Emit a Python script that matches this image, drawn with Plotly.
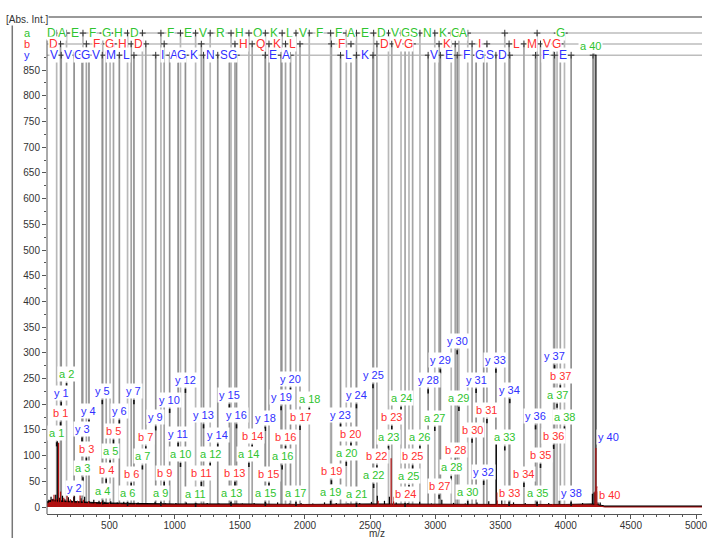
import plotly.graph_objects as go

# ---------------- data ----------------
SEQ = "DAEFGHDSGFEVRHQKLVFFAEDVGSNKGAIIGLMVGGVV"

a_num = [1, 2, 3, 4, 5, 6, 7, 9, 10, 11, 12, 13, 14, 15, 16, 17, 18, 19, 20, 21, 22, 23, 24, 25, 26, 27, 28, 29, 30, 33, 35, 37, 38, 40]
a_mz = [95, 171, 297, 449, 505, 639, 753, 895, 1045, 1161, 1273, 1433, 1570, 1696, 1825, 1931, 2033, 2197, 2317, 2395, 2527, 2641, 2737, 2798, 2882, 2996, 3122, 3181, 3249, 3533, 3781, 3934, 3991, 4232]
a_int = [126, 241, 58, 13, 91, 10, 81, 10, 86, 8, 86, 10, 86, 10, 81, 10, 193, 12, 88, 8, 45, 119, 195, 43, 119, 156, 60, 195, 12, 118, 10, 201, 157, 880]

b_num = [1, 3, 4, 5, 6, 7, 9, 11, 13, 14, 15, 16, 17, 19, 20, 22, 23, 24, 25, 27, 28, 30, 31, 33, 34, 35, 36, 37, 40]
b_mz = [125, 323, 475, 531, 667, 779, 920, 1205, 1463, 1595, 1724, 1851, 1962, 2203, 2353, 2552, 2666, 2768, 2826, 3029, 3153, 3282, 3396, 3566, 3680, 3807, 3908, 3959, 4217]
b_int = [165, 96, 55, 131, 47, 118, 49, 49, 49, 121, 47, 119, 158, 52, 125, 81, 158, 8, 81, 24, 94, 133, 171, 10, 47, 84, 121, 237, 23]

y_num = [1, 2, 3, 4, 5, 6, 7, 9, 10, 11, 12, 13, 14, 15, 16, 18, 19, 20, 23, 24, 25, 28, 29, 30, 31, 32, 33, 34, 36, 37, 38, 40]
y_mz = [130, 229, 290, 343, 445, 576, 688, 855, 962, 1027, 1083, 1222, 1331, 1420, 1475, 1696, 1817, 1889, 2273, 2395, 2522, 2945, 3039, 3168, 3313, 3371, 3465, 3571, 3769, 3915, 4042, 4210]
y_int = [204, 19, 135, 170, 208, 169, 208, 157, 191, 125, 230, 161, 123, 200, 161, 156, 196, 232, 162, 200, 239, 229, 268, 305, 230, 51, 269, 210, 159, 276, 10, 136]

# spectrum: baseline envelopes and stick peaks
env_mz = [21, 60, 120, 200, 300, 450, 700, 1000, 1500, 2000, 2500, 3000, 3500, 4000, 4200, 4260, 4300, 5046]
env_black = [10, 14, 12, 11, 9, 8, 7, 6, 6, 5, 6, 5, 5, 5, 6, 4, 2, 2]
env_red = [6, 10, 9, 8, 6, 5, 4, 4, 3, 3, 4, 3, 3, 3, 4, 2, 0, 0]

black_mz = [35, 52, 68, 88, 100, 118, 140, 158, 185, 205, 232, 255, 282, 310, 345, 380, 420, 465, 510, 560, 610, 660, 720, 790, 850, 930, 1010, 1090, 1170, 1250, 1340, 1430, 1520, 1610, 1700, 1790, 1880, 1970, 2060, 2150, 2240, 2330, 2420, 2510, 2555, 2610, 2648, 2700, 2790, 2880, 2970, 3050, 3140, 3230, 3320, 3410, 3468, 3510, 3600, 3690, 3780, 3870, 3950, 4040, 4130, 4205, 4218, 4232, 4248, 4265]
black_h = [14, 20, 16, 24, 128, 18, 22, 15, 19, 13, 21, 12, 17, 20, 11, 14, 12, 10, 11, 9, 10, 8, 9, 8, 10, 7, 8, 9, 7, 8, 7, 9, 7, 8, 7, 9, 7, 8, 7, 9, 8, 7, 8, 10, 22, 12, 20, 9, 8, 10, 7, 14, 8, 7, 9, 11, 128, 16, 9, 8, 10, 8, 12, 7, 8, 26, 28, 880, 30, 10]

red_mz = [40, 58, 75, 92, 110, 125, 150, 175, 200, 225, 255, 275, 300, 340, 390, 440, 500, 580, 700, 900, 1200, 1600, 2000, 2400, 2561, 2661, 2680, 3000, 3475, 3900, 4225, 4232, 4240]
red_h = [10, 14, 24, 16, 125, 30, 18, 22, 15, 20, 12, 26, 14, 11, 9, 10, 8, 7, 6, 6, 5, 5, 5, 6, 12, 95, 20, 5, 28, 6, 30, 115, 40]

x_ticks = [500, 1000, 1500, 2000, 2500, 3000, 3500, 4000, 4500, 5000]
y_ticks = list(range(0, 851, 50))

# ---------------- style ----------------
X0, X1 = 21, 5046
Y0, Y1 = -13.6, 953.3
ROW_Y = {"a": 922, "b": 901, "y": 879}
COL = {"a": "#2fc42f", "b": "#ff3030", "y": "#3030ff"}
LINE_COL = {"a": "#b8b8b8", "b": "#a4a4a4", "y": "#909090"}
FONT = "Liberation Sans, Arial, sans-serif"

series = {
    "a": (a_num, a_mz, a_int),
    "b": (b_num, b_mz, b_int),
    "y": (y_num, y_mz, y_int),
}

fig = go.Figure()

# row base lines
for s in ["a", "b", "y"]:
    fig.add_trace(go.Scatter(x=[X0, X1], y=[ROW_Y[s], ROW_Y[s]], mode="lines",
                             line=dict(color="#bdbdbd", width=1.5), hoverinfo="skip"))

# vertical ion lines from rows down to baseline
for s in ["a", "b", "y"]:
    nums, mzs, ints = series[s]
    xs, ys = [], []
    for n, m in zip(nums, mzs):
        if s == "a" and n == 40:
            continue
        xs += [m, m, None]
        ys += [0, ROW_Y[s], None]
    fig.add_trace(go.Scatter(x=xs, y=ys, mode="lines", line=dict(color=LINE_COL[s], width=1.7),
                             hoverinfo="skip"))

# row ticks and stubs
for s in ["a", "b", "y"]:
    nums, mzs, ints = series[s]
    xs, ys = [], []
    for n, m in zip(nums, mzs):
        if s == "a" and n == 40:
            continue
        r = ROW_Y[s]
        xs += [m, m, None, m - 25, m + 25, None]
        ys += [r - 6.5, r + 6.5, None, r, r, None]
    fig.add_trace(go.Scatter(x=xs, y=ys, mode="lines", line=dict(color="#333333", width=1),
                             hoverinfo="skip"))

# spectrum
fig.add_trace(go.Scatter(x=env_mz, y=env_black, mode="lines", fill="tozeroy",
                         line=dict(color="black", width=1), fillcolor="black", hoverinfo="skip"))
bx, by = [], []
for m, h in zip(black_mz, black_h):
    bx += [m, m, None]
    by += [0, h, None]
fig.add_trace(go.Scatter(x=bx, y=by, mode="lines", line=dict(color="black", width=1.2), hoverinfo="skip"))

fig.add_trace(go.Scatter(x=env_mz, y=env_red, mode="lines", fill="tozeroy",
                         line=dict(color="#b01010", width=1), fillcolor="#b01010", hoverinfo="skip"))
rx, ry = [], []
for m, h in zip(red_mz, red_h):
    rx += [m, m, None]
    ry += [0, h, None]
fig.add_trace(go.Scatter(x=rx, y=ry, mode="lines", line=dict(color="#b01010", width=1.2), hoverinfo="skip"))

# peak-top markers
mx, my = [], []
for s in ["a", "b", "y"]:
    nums, mzs, ints = series[s]
    for n, m, v in zip(nums, mzs, ints):
        if n == 40:
            continue
        mx += [m, m, None]
        my += [v - 8, v, None]
fig.add_trace(go.Scatter(x=mx, y=my, mode="lines", line=dict(color="#111111", width=1.6), hoverinfo="skip"))

annotations = []
# ion labels
for s in ["a", "b", "y"]:
    nums, mzs, ints = series[s]
    for n, m, v in zip(nums, mzs, ints):
        txt = f"{s} {n}"
        base = dict(text=txt, x=m, y=v, xref="x", yref="y", showarrow=False,
                    font=dict(family=FONT, size=11, color=COL[s]), bgcolor="white", borderpad=1)
        if n == 40 and s in ("y", "b"):
            base.update(xanchor="left", yanchor="middle", xshift=3)
        else:
            base.update(xanchor="center", yanchor="bottom", yshift=1)
            if n == 40:
                base.update(xshift=-5)
        annotations.append(base)

# sequence letters in rows
for s in ["a", "b", "y"]:
    nums, mzs, ints = series[s]
    for i, (n, m) in enumerate(zip(nums, mzs)):
        if n == 1:
            prev = X0
        elif i > 0 and nums[i - 1] == n - 1:
            prev = mzs[i - 1]
        else:
            continue
        letter = SEQ[n - 1] if s in ("a", "b") else SEQ[40 - n]
        annotations.append(dict(text=letter, x=(prev + m) / 2, y=ROW_Y[s], xref="x", yref="y",
                                showarrow=False, xanchor="center", yanchor="middle",
                                font=dict(family=FONT, size=12, color=COL[s]),
                                bgcolor="white", borderpad=0))

# row names
for s in ["a", "b", "y"]:
    annotations.append(dict(text=s, x=-0.0303, y=ROW_Y[s], xref="paper", yref="y", showarrow=False,
                            xanchor="center", yanchor="middle",
                            font=dict(family=FONT, size=11, color=COL[s])))

annotations.append(dict(text="[Abs. Int.]", x=-0.0635, y=0.994, xref="paper", yref="paper",
                        showarrow=False, xanchor="left", yanchor="middle",
                        font=dict(family=FONT, size=10, color="#333"), bgcolor="white", borderpad=0))
annotations.append(dict(text="m/z", x=0.504, y=-0.0392, xref="paper", yref="paper", showarrow=False,
                        xanchor="center", yanchor="middle", font=dict(family=FONT, size=10, color="#333")))

shapes = [
    dict(type="line", xref="paper", yref="y", x0=0, x1=0, y0=Y0, y1=910, line=dict(color="#555", width=1)),
    dict(type="line", xref="paper", yref="paper", x0=-0.053, x1=1.0, y0=1.0, y1=1.0,
         line=dict(color="#777", width=1.5)),
    dict(type="line", xref="paper", yref="paper", x0=-0.053, x1=-0.053, y0=-0.06, y1=1.0,
         line=dict(color="#777", width=1.5)),
]

fig.update_layout(
    width=708, height=538,
    margin=dict(l=47, r=0, t=17, b=24),
    plot_bgcolor="white", paper_bgcolor="white",
    showlegend=False,
    font=dict(family=FONT, size=10, color="#333"),
    annotations=annotations,
    shapes=shapes,
    xaxis=dict(range=[X0, X1], tickvals=x_ticks, ticks="outside", ticklen=4, tickcolor="#555",
               showline=True, linecolor="#555", linewidth=1, showgrid=False, zeroline=False,
               ticklabeloverflow="allow", ticklabelstandoff=-2,
               tickfont=dict(family=FONT, size=10, color="#333"),
               minor=dict(tickvals=list(range(100, 5001, 100)), ticks="outside", ticklen=2,
                          tickcolor="#555", showgrid=False)),
    yaxis=dict(range=[Y0, Y1], tickvals=y_ticks, ticks="outside", ticklen=4, tickcolor="#555",
               showline=False, showgrid=False, zeroline=False,
               tickfont=dict(family=FONT, size=10, color="#333"),
               minor=dict(tickvals=list(range(25, 876, 50)), ticks="outside", ticklen=2,
                          tickcolor="#555", showgrid=False)),
)

fig.write_html("out.html")
